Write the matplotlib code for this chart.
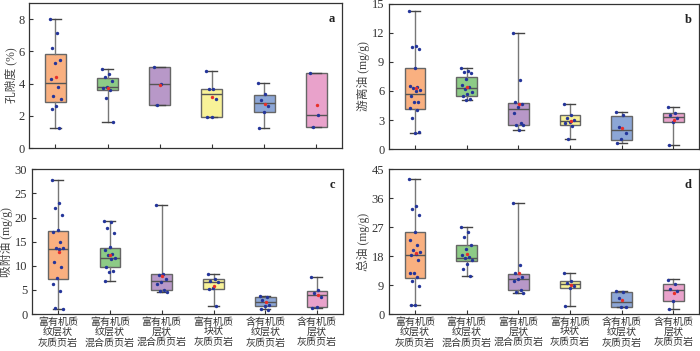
import numpy as np
import matplotlib.pyplot as plt

plt.rcParams['font.family'] = ['Liberation Serif', 'Noto Sans CJK SC']

groups = ['富有机质\n纹层状\n灰质页岩', '富有机质\n纹层状\n混合质页岩', '富有机质\n层状\n混合质页岩',
          '富有机质\n块状\n灰质页岩', '含有机质\n纹层状\n灰质页岩', '含有机质\n层状\n灰质页岩']
colors = ['#F9B080', '#8DCB86', '#B898C8', '#F8F298', '#8CA6D6', '#E9A2CB']

# panel a: porosity (%)
a_pts = [[8.0, 7.17, 6.19, 5.46, 5.3, 4.27, 3.77, 3.26, 3.05, 2.62, 2.45, 1.24],
         [4.93, 4.6, 4.39, 4.14, 3.81, 3.71, 3.61, 3.11, 1.63],
         [5.05, 3.96, 2.70],
         [4.78, 3.69, 3.69, 3.03, 1.92, 1.96],
         [4.02, 3.34, 2.97, 2.62, 2.25, 1.28],
         [4.68, 2.04, 1.30]]
a_low = [1.24, 1.63, 2.70, 1.92, 1.28, 1.30]
a_q1 = [2.85, 3.59, 2.70, 1.92, 2.25, 1.30]
a_med = [4.02, 3.81, 3.96, 3.34, 2.80, 2.04]
a_q3 = [5.84, 4.37, 5.05, 3.69, 3.32, 4.68]
a_high = [8.0, 4.93, 5.05, 4.78, 4.02, 4.68]
a_mean = [4.39, 3.75, 3.90, 3.18, 2.72, 2.66]

# panel b: free oil (mg/g)
b_pts = [[14.28, 10.62, 10.48, 10.31, 8.31, 6.55, 6.45, 6.28, 6.1, 6.03, 5.52, 4.9, 4.83, 4.2, 4.03, 3.17, 1.79, 1.62],
         [8.31, 8.07, 7.9, 7.83, 7.24, 6.62, 6.38, 6.24, 5.9, 5.69, 5.52, 5.17, 5.07],
         [12.0, 7.14, 4.83, 4.62, 4.31, 3.76, 2.66, 2.52, 2.45, 1.97],
         [4.62, 3.48, 3.17, 3.0, 2.79, 2.66, 2.41, 1.03],
         [3.79, 3.52, 2.31, 1.69, 1.0, 0.59],
         [4.31, 3.69, 3.52, 3.17, 2.83, 0.48]]
b_low = [1.62, 5.07, 1.97, 1.03, 0.59, 0.48]
b_q1 = [4.10, 5.45, 2.52, 2.45, 0.97, 2.83]
b_med = [5.72, 6.28, 4.10, 2.93, 1.97, 3.34]
b_q3 = [8.31, 7.45, 4.76, 3.48, 3.45, 3.69]
b_high = [14.28, 8.31, 12.0, 4.62, 3.79, 4.31]
b_mean = [6.30, 6.38, 4.62, 2.86, 2.14, 2.97]

# panel c: adsorbed oil (mg/g)
c_pts = [[27.86, 23.1, 22.07, 20.62, 17.38, 16.9, 14.97, 13.72, 13.59, 13.38, 10.83, 9.66, 7.38, 6.34, 4.83, 1.17, 1.1],
         [19.24, 19.1, 17.93, 16.76, 13.86, 13.24, 12.48, 12.21, 11.66, 11.31, 9.79, 8.97, 8.62, 6.83],
         [22.55, 8.41, 8.07, 7.17, 6.55, 6.34, 4.97, 4.76, 4.48],
         [8.21, 7.24, 6.83, 6.55, 5.45, 5.17, 1.72],
         [3.72, 3.59, 2.97, 1.86, 1.59, 1.03, 0.83],
         [7.66, 4.97, 4.34, 3.45, 1.38, 1.17]]
c_low = [1.10, 6.83, 4.48, 1.72, 1.03, 1.17]
c_q1 = [7.24, 9.79, 5.10, 5.17, 1.66, 1.38]
c_med = [13.38, 11.72, 6.90, 6.69, 2.55, 3.93]
c_q3 = [17.31, 13.79, 8.34, 7.17, 3.45, 4.83]
c_high = [27.86, 19.24, 22.55, 8.21, 3.72, 7.66]
c_mean = [12.9, 12.34, 7.93, 5.86, 2.55, 3.86]

# panel d: total oil (mg/g)
d_pts = [[42.1, 33.56, 32.74, 30.87, 25.57, 22.87, 21.52, 19.96, 19.23, 18.6, 18.4, 16.84, 12.79, 12.68, 11.43, 10.29, 8.84, 2.81, 2.7],
         [27.03, 25.36, 23.8, 21.52, 20.27, 18.4, 17.88, 17.36, 16.84, 15.49, 14.03, 11.85],
         [34.5, 15.28, 12.68, 11.64, 10.81, 10.29, 7.48, 6.96, 6.65],
         [12.68, 10.29, 9.56, 8.84, 8.0, 2.6],
         [7.28, 6.96, 5.09, 2.29, 2.18],
         [10.6, 9.25, 7.8, 7.17, 4.05, 1.46]]
d_low = [2.70, 11.85, 6.65, 2.60, 2.18, 1.46]
d_q1 = [11.33, 16.53, 7.48, 8.0, 2.29, 4.05]
d_med = [18.4, 17.46, 10.81, 9.36, 3.85, 7.48]
d_q3 = [25.47, 21.41, 12.58, 10.19, 6.86, 9.25]
d_high = [42.1, 27.03, 34.5, 12.68, 7.28, 10.81]
d_mean = [18.92, 18.6, 12.68, 9.04, 4.37, 6.65]

panels = [
    ('a', '孔隙度 (%)', 9, [0, 2, 4, 6, 8], a_pts, a_low, a_q1, a_med, a_q3, a_high, a_mean, [0.042, 0.578, 0.447, 0.413]),
    ('b', '游离油 (mg/g)', 15, [0, 3, 6, 9, 12, 15], b_pts, b_low, b_q1, b_med, b_q3, b_high, b_mean, [0.556, 0.575, 0.443, 0.415]),
    ('c', '吸附油 (mg/g)', 30, [0, 5, 10, 15, 20, 25, 30], c_pts, c_low, c_q1, c_med, c_q3, c_high, c_mean, [0.046, 0.105, 0.444, 0.413]),
    ('d', '总油 (mg/g)', 45, [0, 9, 18, 27, 36, 45], d_pts, d_low, d_q1, d_med, d_q3, d_high, d_mean, [0.556, 0.105, 0.443, 0.413]),
]

fig = plt.figure(figsize=(7, 3.51), dpi=100)
pos = np.arange(1, len(groups) + 1)

for k, (letter, ylabel, ymax, yt, pts, low, q1, med, q3, high, mean, rect) in enumerate(panels):
    ax = fig.add_axes(rect)
    stats = [dict(whislo=low[i], q1=q1[i], med=med[i], q3=q3[i], whishi=high[i], fliers=[])
             for i in range(len(groups))]
    bp = ax.bxp(stats, positions=pos, widths=0.4, patch_artist=True, showfliers=False,
                boxprops=dict(edgecolor='#666666', linewidth=1.0),
                medianprops=dict(color='#555555', linewidth=1.0),
                whiskerprops=dict(color='#777777', linewidth=1.0),
                capprops=dict(color='#444444', linewidth=1.0), capwidths=0.2)
    for patch, c in zip(bp['boxes'], colors):
        patch.set_facecolor(c)
    for i, p in enumerate(pts):
        n = len(p)
        jit = (((np.arange(n) * 0.618) % 1.0) - 0.5) * 0.22
        ax.scatter(pos[i] + jit, p, s=6, color='#24359A', zorder=3, linewidths=0)
        ax.scatter(pos[i] + 0.01, mean[i], s=6, color='#E8302A', zorder=4, linewidths=0)
    ax.set_xlim(0.5, 6.5)
    ax.set_ylim(0, ymax)
    ax.set_yticks(yt)
    ax.set_xticks(pos)
    ax.tick_params(direction='in', length=3, labelsize=9, labelcolor='#333333', color='#333333')
    if k >= 2:
        ax.set_xticklabels(groups, fontsize=7.2, color='#333333', linespacing=1.12)
        ax.tick_params(axis='x', pad=2)
    else:
        ax.set_xticklabels([])
    ax.set_ylabel(ylabel, fontsize=8.5, color='#444444', labelpad=1)
    for s in ax.spines.values():
        s.set_color('#333333')
        s.set_linewidth(0.9)
    ax.text(0.975, 0.89, letter, transform=ax.transAxes, ha='right', va='center',
            fontsize=9, fontweight='bold', color='#222222')

fig.savefig('out.png', dpi=100)
